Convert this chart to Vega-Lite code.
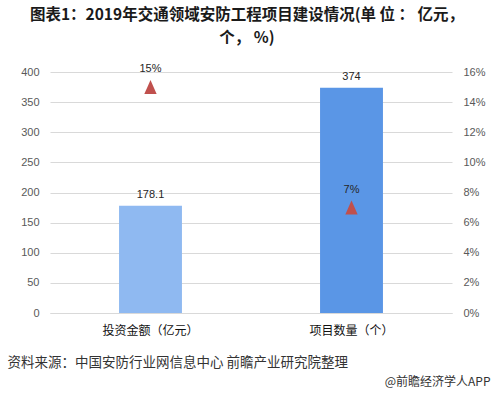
{
  "$schema": "https://vega.github.io/schema/vega-lite/v6.json",
  "width": 402,
  "height": 241,
  "autosize": "none",
  "padding": {"left": 50, "top": 72, "right": 41, "bottom": 80},
  "background": "#ffffff",
  "config": {"view": {"stroke": null}, "font": "Noto Sans CJK SC"},
  "title": {
    "text": ["图表1：2019年交通领域安防工程项目建设情况(单 位 ： 亿元，", "个， %)"],
    "font": "Noto Sans CJK SC",
    "fontSize": 15.5,
    "fontWeight": "bold",
    "color": "#1a1a1a",
    "anchor": "middle",
    "lineHeight": 22.5,
    "dx": -4,
    "offset": 17
  },
  "data": {
    "values": [
      {"cat": "投资金额（亿元）", "value": 178.1, "pct": 0.15},
      {"cat": "项目数量（个）", "value": 374, "pct": 0.07}
    ]
  },
  "encoding": {
    "x": {
      "field": "cat",
      "type": "nominal",
      "sort": null,
      "scale": {"paddingInner": 0.687, "paddingOuter": 0.3435},
      "axis": {
        "labelAngle": 0,
        "ticks": false,
        "domainColor": "#D9D9D9",
        "labelFont": "Noto Sans CJK SC",
        "labelFontSize": 12,
        "labelColor": "#111111",
        "labelPadding": 12,
        "title": "资料来源：中国安防行业网信息中心 前瞻产业研究院整理",
        "titleFont": "Noto Sans CJK SC",
        "titleFontSize": 13.5,
        "titleFontWeight": "normal",
        "titleColor": "#333333",
        "titleAnchor": "start",
        "titleAlign": "left",
        "titleBaseline": "middle",
        "titleX": -43,
        "titleY": 49
      }
    }
  },
  "layer": [
    {
      "layer": [
        {
          "mark": {"type": "bar"},
          "encoding": {
            "y": {
              "field": "value",
              "type": "quantitative",
              "scale": {"domain": [0, 400], "nice": false},
              "axis": {
                "title": null,
                "values": [0, 50, 100, 150, 200, 250, 300, 350, 400],
                "tickCount": 9,
                "labelOverlap": false,
                "grid": true,
                "gridColor": "#D9D9D9",
                "domain": false,
                "ticks": false,
                "labelPadding": 11,
                "labelFont": "Liberation Sans",
                "labelFontSize": 11,
                "labelColor": "#595959"
              }
            },
            "color": {
              "field": "cat",
              "type": "nominal",
              "sort": null,
              "scale": {"range": ["#8FB9F1", "#5A96E6"]},
              "legend": null
            }
          }
        },
        {
          "mark": {"type": "text", "baseline": "bottom", "dy": -6, "font": "Liberation Sans", "fontSize": 11, "color": "#262626"},
          "encoding": {
            "y": {"field": "value", "type": "quantitative"},
            "text": {"field": "value", "type": "quantitative"}
          }
        }
      ]
    },
    {
      "layer": [
        {
          "mark": {"type": "point", "shape": "M0,-1L-0.88,1L0.88,1Z", "filled": true, "size": 196, "color": "#C0504D", "opacity": 1},
          "encoding": {
            "y": {
              "field": "pct",
              "type": "quantitative",
              "scale": {"domain": [0, 0.16], "nice": false},
              "axis": {
                "orient": "right",
                "title": "@前瞻经济学人APP",
                "titleAngle": 0,
                "titleAlign": "right",
                "titleBaseline": "middle",
                "titleX": 38,
                "titleY": 309,
                "titleFont": "Noto Sans CJK SC",
                "titleFontSize": 12,
                "titleFontWeight": "normal",
                "titleColor": "#333333",
                "values": [0, 0.02, 0.04, 0.06, 0.08, 0.1, 0.12, 0.14, 0.16],
                "tickCount": 9,
                "labelOverlap": false,
                "format": ".0%",
                "grid": false,
                "domain": false,
                "ticks": false,
                "labelPadding": 11,
                "labelFont": "Liberation Sans",
                "labelFontSize": 11,
                "labelColor": "#595959"
              }
            }
          }
        },
        {
          "mark": {"type": "text", "baseline": "bottom", "dy": -13, "font": "Liberation Sans", "fontSize": 11, "color": "#262626"},
          "encoding": {
            "y": {"field": "pct", "type": "quantitative"},
            "text": {"field": "pct", "type": "quantitative", "format": ".0%"}
          }
        }
      ]
    }
  ],
  "resolve": {"scale": {"y": "independent", "color": "independent"}, "axis": {"y": "independent"}}
}
